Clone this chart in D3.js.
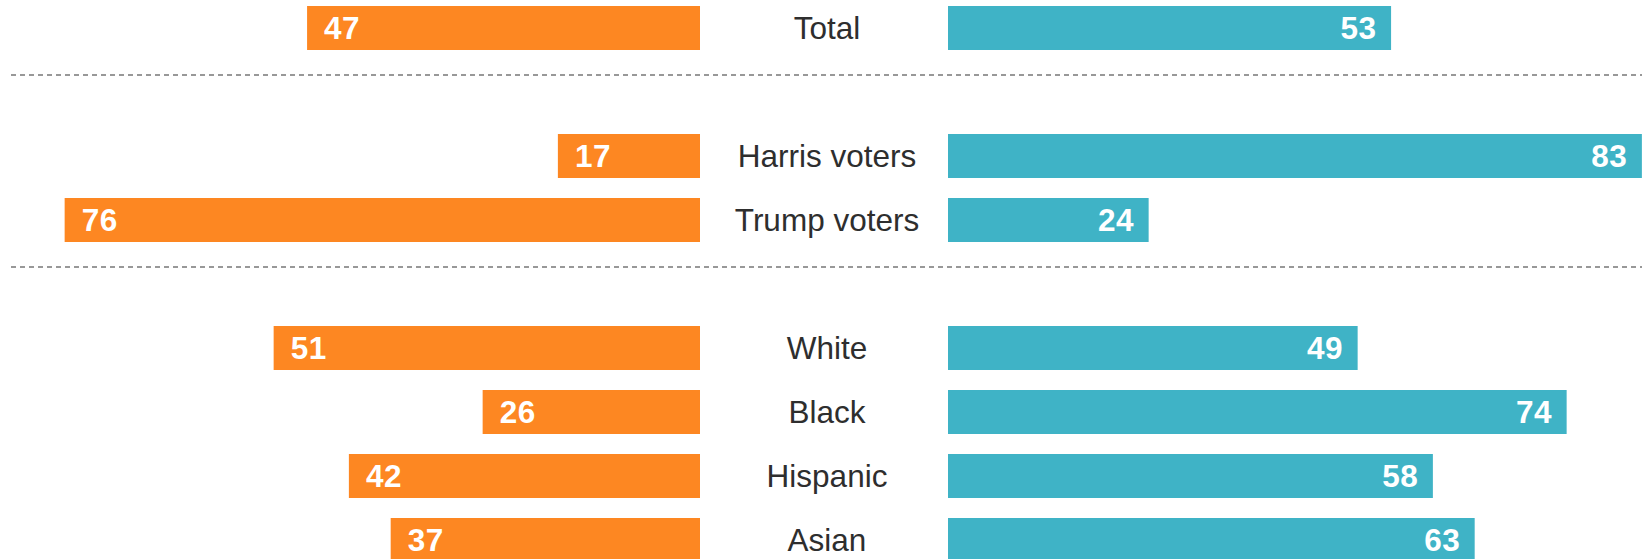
<!DOCTYPE html>
<html>
<head>
<meta charset="utf-8">
<script src="https://cdn.jsdelivr.net/npm/d3@7"></script>
<style>
  body { margin: 0; background: #fff; }
  svg { display: block; }
</style>
</head>
<body>
<div id="chart"></div>
<script>
var svgWidth = 1642;
var svgHeight = 559;

// data
var categories = ["Total", "Harris voters", "Trump voters", "White", "Black", "Hispanic", "Asian"];
var rowSlots = [0, 2, 3, 5, 6, 7, 8];      // vertical slot for each row (gaps hold the dividers)
var leftValues = [47, 17, 76, 51, 26, 42, 37];
var rightValues = [53, 83, 24, 49, 74, 58, 63];
var dividerSlots = [1, 4];

var rows = categories.map(function (c, i) {
  return { label: c, slot: rowSlots[i], left: leftValues[i], right: rightValues[i] };
});

var svg = d3.select("#chart")
  .append("svg")
  .attr("width", svgWidth)
  .attr("height", svgHeight);

// scales
var yScale = d3.scaleLinear().domain([0, 1]).range([28, 92]);
var barHeight = 44;
var xLeft = d3.scaleLinear().domain([0, 100]).range([700, 700 - 836]);
var xRight = d3.scaleLinear().domain([0, 100]).range([948, 948 + 836]);

var orange = "#fd8722";
var teal = "#3fb3c6";

// dashed dividers
svg.selectAll("line.divider")
  .data(dividerSlots)
  .enter()
  .append("line")
  .attr("class", "divider")
  .attr("x1", 11)
  .attr("x2", svgWidth)
  .attr("y1", d => yScale(d) - 17)
  .attr("y2", d => yScale(d) - 17)
  .attr("stroke", "#777")
  .attr("stroke-width", 1.5)
  .attr("stroke-dasharray", "5,4");

var rowGroups = svg.selectAll("g.row")
  .data(rows)
  .enter()
  .append("g")
  .attr("class", "row");

// left (orange) bars
rowGroups.append("rect")
  .attr("x", d => xLeft(d.left))
  .attr("y", d => yScale(d.slot) - barHeight / 2)
  .attr("width", d => xLeft(0) - xLeft(d.left))
  .attr("height", barHeight)
  .attr("fill", orange);

// right (teal) bars
rowGroups.append("rect")
  .attr("x", xRight(0))
  .attr("y", d => yScale(d.slot) - barHeight / 2)
  .attr("width", d => xRight(d.right) - xRight(0))
  .attr("height", barHeight)
  .attr("fill", teal);

// value labels
rowGroups.append("text")
  .attr("x", d => xLeft(d.left) + 17)
  .attr("y", d => yScale(d.slot) + 11)
  .attr("fill", "#fff")
  .style("font-family", "'Liberation Sans', Arial, sans-serif")
  .style("font-weight", "bold")
  .style("font-size", "31.5px")
  .style("letter-spacing", "0.5px")
  .text(d => d.left);

rowGroups.append("text")
  .attr("x", d => xRight(d.right) - 14.5)
  .attr("y", d => yScale(d.slot) + 11)
  .attr("text-anchor", "end")
  .attr("fill", "#fff")
  .style("font-family", "'Liberation Sans', Arial, sans-serif")
  .style("font-weight", "bold")
  .style("font-size", "31.5px")
  .style("letter-spacing", "0.5px")
  .text(d => d.right);

// category labels in the middle
rowGroups.append("text")
  .attr("x", 827)
  .attr("y", d => yScale(d.slot) + 10.5)
  .attr("text-anchor", "middle")
  .attr("fill", "#2e2e2e")
  .style("font-family", "'Liberation Sans', Arial, sans-serif")
  .style("font-size", "31.5px")
  .text(d => d.label);
</script>
</body>
</html>
